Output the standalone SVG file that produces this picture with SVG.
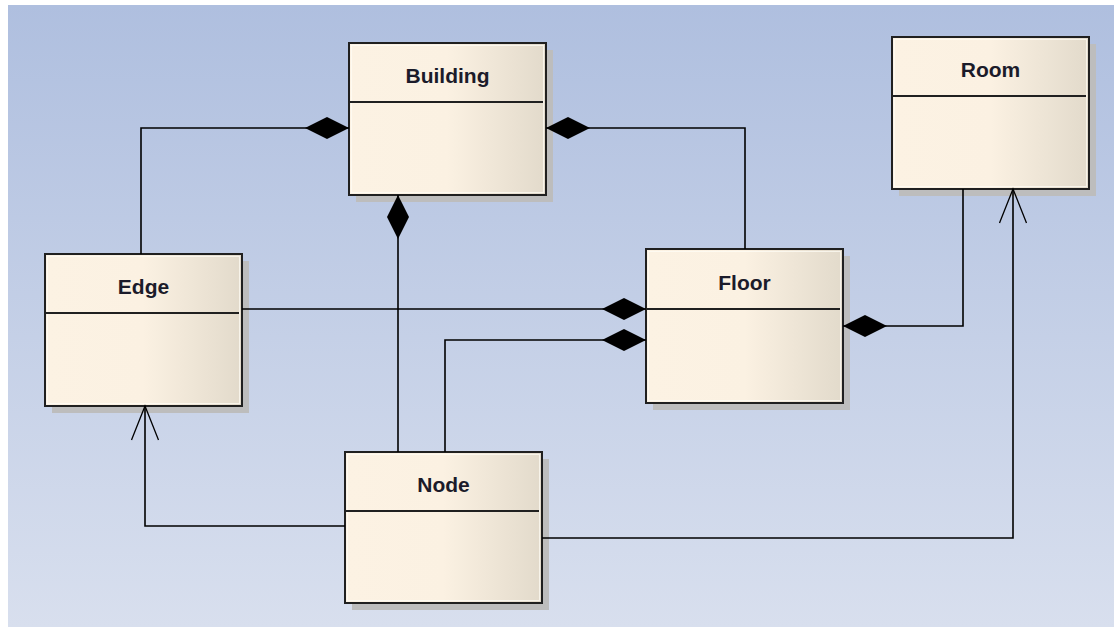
<svg xmlns="http://www.w3.org/2000/svg" width="1114" height="627" viewBox="0 0 1114 627">
  <defs>
    <linearGradient id="bg" x1="0" y1="0" x2="0" y2="1">
      <stop offset="0" stop-color="#AFBFDF"/>
      <stop offset="1" stop-color="#D8DFEE"/>
    </linearGradient>
    <linearGradient id="fill" x1="0" y1="0" x2="1" y2="0">
      <stop offset="0" stop-color="#FCF2E3"/>
      <stop offset="0.5" stop-color="#FBF1E2"/>
      <stop offset="1" stop-color="#E2DACB"/>
    </linearGradient>
    <marker id="diamond" markerUnits="userSpaceOnUse" markerWidth="46" markerHeight="24" viewBox="0 -12 46 24" refX="0" refY="0" orient="auto" overflow="visible">
      <path d="M0,0 L22,-11 L44,0 L22,11 Z" fill="#000"/>
    </marker>
    <marker id="open" markerUnits="userSpaceOnUse" markerWidth="40" markerHeight="32" viewBox="-37 -16 40 32" refX="0" refY="0" orient="auto" overflow="visible">
      <path d="M-34,-13.5 L0,0 L-34,13.5" fill="none" stroke="#000" stroke-width="1.3"/>
    </marker>
  </defs>
  <style>
    .shadow { fill: #BDBDBD; }
    .box { fill: url(#fill); stroke: #202020; stroke-width: 2; }
    .inner { fill: none; stroke: #FFFDF6; stroke-width: 1; opacity: 0.7; }
    .sep { stroke: #202020; stroke-width: 2; }
    .label { font-family: "Liberation Sans", Arial, sans-serif; font-weight: bold; font-size: 21px; fill: #1B1B2A; text-anchor: middle; }
    .conn { fill: none; stroke: #000; stroke-width: 1.6; }
    .comp { marker-start: url(#diamond); }
    .nav { marker-end: url(#open); }
  </style>

  <rect x="8" y="5" width="1106" height="622" fill="url(#bg)"/>

  <g id="building">
    <rect class="shadow" x="356" y="50" width="197" height="152"/>
    <rect class="box" x="349" y="43" width="197" height="152"/>
    <rect class="inner" x="351.5" y="45.5" width="192" height="147"/>
    <line class="sep" x1="349" y1="102" x2="543" y2="102"/>
    <text class="label" x="447.5" y="83">Building</text>
  </g>

  <g id="room">
    <rect class="shadow" x="899" y="44" width="197" height="152"/>
    <rect class="box" x="892" y="37" width="197" height="152"/>
    <rect class="inner" x="894.5" y="39.5" width="192" height="147"/>
    <line class="sep" x1="892" y1="96" x2="1086" y2="96"/>
    <text class="label" x="990.5" y="77">Room</text>
  </g>

  <g id="edge">
    <rect class="shadow" x="52" y="261" width="197" height="152"/>
    <rect class="box" x="45" y="254" width="197" height="152"/>
    <rect class="inner" x="47.5" y="256.5" width="192" height="147"/>
    <line class="sep" x1="45" y1="313" x2="239" y2="313"/>
    <text class="label" x="143.5" y="294">Edge</text>
  </g>

  <g id="floor">
    <rect class="shadow" x="653" y="256" width="197" height="154"/>
    <rect class="box" x="646" y="249" width="197" height="154"/>
    <rect class="inner" x="648.5" y="251.5" width="192" height="149"/>
    <line class="sep" x1="646" y1="309" x2="840" y2="309"/>
    <text class="label" x="744.5" y="290">Floor</text>
  </g>

  <g id="node">
    <rect class="shadow" x="352" y="459" width="197" height="151"/>
    <rect class="box" x="345" y="452" width="197" height="151"/>
    <rect class="inner" x="347.5" y="454.5" width="192" height="146"/>
    <line class="sep" x1="345" y1="511" x2="539" y2="511"/>
    <text class="label" x="443.5" y="492">Node</text>
  </g>

  <g id="connectors">
    <path class="conn comp" d="M349,128 H141 V254"/>
    <path class="conn comp" d="M546,128 H745 V249"/>
    <path class="conn comp" d="M398,195 V452"/>
    <path class="conn comp" d="M646,309 H242"/>
    <path class="conn comp" d="M646,340 H445 V452"/>
    <path class="conn comp" d="M843,326 H963 V189"/>
    <path class="conn nav" d="M345,526 H145 V406"/>
    <path class="conn nav" d="M542,538 H1013 V189"/>
  </g>
</svg>
